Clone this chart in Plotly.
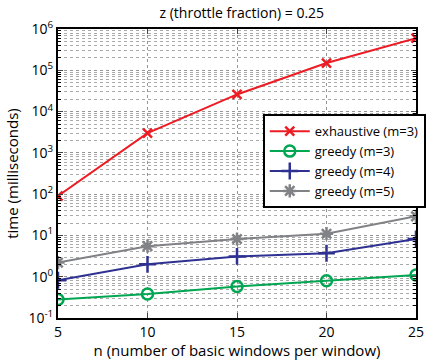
import plotly.graph_objects as go

n_vals = [5, 10, 15, 20, 25]
exhaustive_m3 = [90, 3000, 26000, 150000, 600000]
greedy_m3 = [0.28, 0.38, 0.58, 0.80, 1.1]
greedy_m4 = [0.82, 2.0, 3.1, 3.7, 8.2]
greedy_m5 = [2.2, 5.5, 8.2, 11.0, 29.0]
y_tick_vals = [0.1, 1, 10, 100, 1000, 10000, 100000, 1000000]
y_tick_text = ["10<sup>-1</sup>", "10<sup>0</sup>", "10<sup>1</sup>", "10<sup>2</sup>",
               "10<sup>3</sup>", "10<sup>4</sup>", "10<sup>5</sup>", "10<sup>6</sup>"]

series = [
    ("exhaustive (m=3)", exhaustive_m3, "rgb(237,28,36)", "x-thin", 9),
    ("greedy (m=3)", greedy_m3, "rgb(0,166,81)", "circle-open", 11),
    ("greedy (m=4)", greedy_m4, "rgb(46,49,146)", "cross-thin", 12),
    ("greedy (m=5)", greedy_m5, "rgb(128,130,133)", "asterisk-open", 11),
]

fig = go.Figure()
for name, vals, color, sym, size in series:
    fig.add_trace(go.Scatter(
        x=n_vals, y=vals, name=name, mode="lines+markers",
        line=dict(color=color, width=2),
        marker=dict(symbol=sym, size=size, color=color,
                    line=dict(color=color, width=2.5)),
    ))

font = "Open Sans, Liberation Sans, sans-serif"
minor_vals = [m * 10 ** e for e in range(-1, 6) for m in range(2, 10)]

fig.update_layout(
    width=428, height=360,
    margin=dict(l=58, r=2, t=29, b=42),
    paper_bgcolor="white", plot_bgcolor="white",
    font=dict(family=font, size=13, color="black"),
    title=dict(text="z (throttle fraction) = 0.25", x=0.565, xanchor="center",
               y=0.965, yanchor="middle", font=dict(size=14)),
    showlegend=True,
    legend=dict(x=0.572, y=0.705, xanchor="left", yanchor="top",
                bgcolor="white", bordercolor="black", borderwidth=2,
                font=dict(size=13), tracegroupgap=0, itemwidth=40),
    xaxis=dict(
        range=[5, 25], tickvals=n_vals, ticks="inside", ticklen=5,
        showline=True, linecolor="black", linewidth=2, mirror="ticks",
        showgrid=True, gridcolor="rgb(150,150,150)", griddash="dot", gridwidth=1,
        zeroline=False,
        title=dict(text="n (number of basic windows per window)", standoff=8,
                   font=dict(size=15)),
        tickfont=dict(size=14),
    ),
    yaxis=dict(
        type="log", range=[-1, 6], tickvals=y_tick_vals, ticktext=y_tick_text,
        ticks="inside", ticklen=5,
        showline=True, linecolor="black", linewidth=2, mirror="ticks",
        showgrid=True, gridcolor="rgb(150,150,150)", griddash="dot", gridwidth=1,
        zeroline=False,
        minor=dict(tickvals=minor_vals, showgrid=True, gridcolor="rgb(170,170,170)",
                   griddash="dot", gridwidth=1, ticks="inside", ticklen=3,
                   tickcolor="black"),
        title=dict(text="time (milliseconds)", standoff=6, font=dict(size=15)),
        tickfont=dict(size=14),
    ),
)

fig.write_html("out.html")
